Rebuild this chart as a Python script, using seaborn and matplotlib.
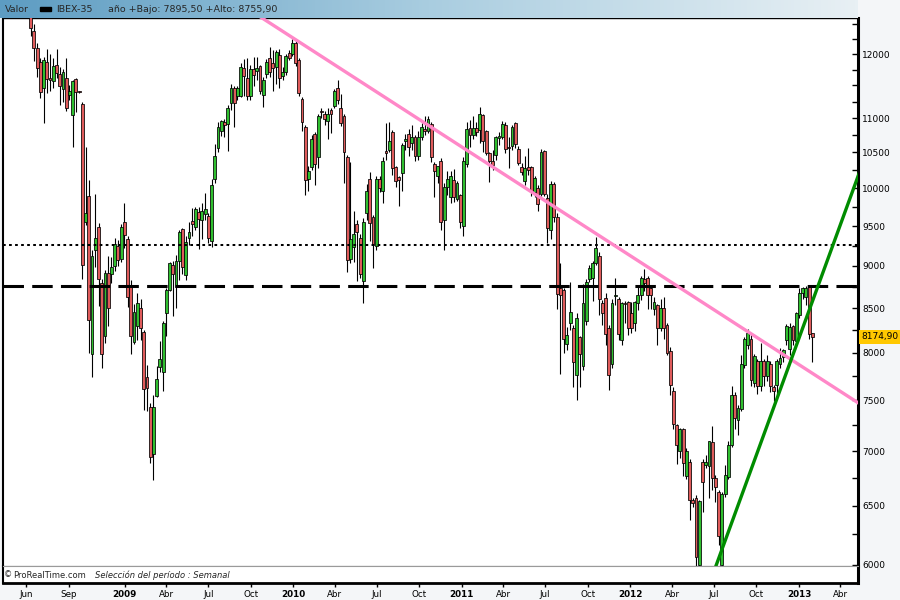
"""
IBEX-35 weekly candlestick chart (ProRealTime look) with trend lines and levels.
"""

import numpy as np
import pandas as pd
import matplotlib
matplotlib.use('Agg')
import matplotlib.pyplot as plt
import matplotlib.dates as mdates
from matplotlib.colors import LinearSegmentedColormap
from matplotlib.patches import Rectangle
from matplotlib.ticker import FixedLocator, FuncFormatter, NullFormatter
from matplotlib.transforms import blended_transform_factory
import seaborn as sns

sns.set_theme(style='white')
plt.rcParams['font.family'] = ['DejaVu Sans']

# Weekly OHLC, one candle per week starting 11 Jun 2008
first_week = '2008-06-11'

opens = [
    12800, 12380, 12095, 11880, 11455, 11870, 11620, 11570, 11820, 11675,
    11450, 11610, 11360, 11048, 11600, 11410, 11210, 9560, 9900, 7990,
    9200, 9490, 8795, 8180, 8920, 8905, 9000, 9250, 9085, 9550,
    9335, 8760, 8115, 8290, 8500, 8225, 7740, 7430, 6975, 7545,
    7845, 7790, 8440, 8710, 9015, 8750, 9065, 9460, 8895, 9350,
    9570, 9490, 9685, 9585, 9660, 9630, 9305, 10130, 10560, 10810,
    10950, 10920, 11235, 11455, 11330, 11340, 11780, 11615, 11330, 11765,
    11730, 11810, 11355, 11675, 11945, 11860, 11785, 11985, 11650, 11710,
    12015, 12010, 12185, 11900, 11285, 10865, 10130, 10300, 10760, 10435,
    11115, 11060, 10955, 11125, 11180, 11465, 11155, 11040, 10440, 9085,
    9240, 9530, 9350, 8815, 9665, 10130, 9615, 9245, 10130, 9960,
    10520, 10540, 10800, 10295, 10160, 10210, 10660, 10765, 10630, 10725,
    10450, 10725, 10840, 10815, 10915, 10330, 10175, 10385, 9585, 10020,
    9885, 10115, 9860, 9910, 9505, 10330, 10855, 10745, 10855, 10830,
    11050, 10815, 10490, 10385, 10470, 10710, 10730, 10900, 10580, 10595,
    10925, 10550, 10295, 10100, 10295, 10295, 9945, 10010, 9930, 10525,
    9875, 9445, 10065, 9625, 8735, 8710, 8100, 8330, 8275, 7765,
    8175, 7855, 8350, 8840, 8860, 9040, 9125, 8560, 8620, 8270,
    7880, 8640, 8605, 8140, 8560, 8565, 8445, 8325, 8555, 8650,
    8845, 8860, 8735, 8490, 8530, 8270, 8500, 8310, 8015, 7595,
    7255, 7000, 7210, 6770, 6895, 6550, 6570, 6000, 6900, 6865,
    6860, 7090, 6750, 6620, 6000, 6600, 6760, 7060, 7555, 7300,
    7410, 7865, 8085, 8145, 7680, 7915, 7650, 7915, 7750, 7875,
    7640, 7660, 7875, 7955, 8135, 8040, 8290, 8130, 8425, 8670,
    8630, 8755, 8215,
]

highs = [
    12900, 12510, 12175, 11935, 11950, 12085, 11995, 11940, 12085, 11795,
    11755, 11940, 11505, 11580, 11620, 11420, 11240, 10580, 10115, 9200,
    9925, 9540, 8840, 8955, 9125, 9115, 9345, 9325, 9530, 9810,
    9370, 8835, 8550, 8675, 8600, 8245, 7870, 7470, 7555, 7860,
    8125, 8355, 8735, 9050, 9060, 9140, 9450, 9470, 9370, 9560,
    9735, 9755, 9755, 9800, 9935, 9665, 10130, 10615, 10950, 10975,
    10990, 11195, 11520, 11490, 11490, 11860, 11915, 11930, 11830, 11955,
    11955, 11830, 11630, 11915, 12115, 12060, 12060, 12090, 11800, 12000,
    12065, 12245, 12245, 11930, 11320, 10900, 10315, 10745, 10795, 11060,
    11155, 11115, 11155, 11155, 11450, 11580, 11365, 11060, 10465, 10365,
    9695, 9575, 9400, 9600, 10065, 10230, 9645, 10165, 10165, 10440,
    10935, 10940, 10830, 10315, 10165, 10640, 10765, 10840, 10900, 10745,
    10815, 10925, 11040, 11040, 10950, 10365, 10315, 10415, 10070, 10240,
    10240, 10265, 10100, 9925, 10440, 10950, 10975, 11040, 10950, 11170,
    11060, 10830, 10510, 10540, 10740, 10800, 10960, 10950, 10720, 10900,
    10950, 10595, 10345, 10450, 10560, 10315, 10165, 10045, 10555, 10530,
    9925, 10100, 10090, 9665, 9040, 8735, 8285, 8805, 8305, 8445,
    8185, 8780, 8845, 9015, 9060, 9355, 9170, 8590, 8675, 8305,
    8610, 8860, 8630, 8565, 8580, 8580, 8575, 8580, 8755, 8880,
    8960, 8880, 8755, 8630, 8545, 8610, 8630, 8325, 8065, 7640,
    7265, 7225, 7225, 7025, 6920, 6570, 6595, 6550, 6920, 6960,
    7100, 7240, 6775, 6640, 6620, 6870, 7100, 7645, 7580, 7455,
    7975, 8170, 8265, 8215, 7985, 7935, 8110, 7935, 7975, 7915,
    7660, 7935, 8050, 8035, 8320, 8325, 8310, 8460, 8740, 8750,
    8755.9, 8755.9, 8215,
]

lows = [
    12300, 11890, 11635, 11300, 10935, 11385, 11415, 11455, 11610, 11200,
    11250, 11115, 11275, 10580, 11100, 11380, 8845, 9520, 7995, 7740,
    8990, 8525, 7840, 8105, 8300, 8795, 8935, 9000, 9050, 9220,
    8510, 7990, 8095, 8140, 8140, 7400, 7390, 6890, 6730, 7535,
    7790, 7590, 8180, 8695, 8410, 8500, 8835, 8900, 8835, 9260,
    9375, 9450, 9210, 9335, 9585, 9285, 9240, 10075, 10500, 10735,
    10720, 10515, 11125, 10870, 11275, 11320, 11330, 11275, 11275, 11490,
    11590, 11370, 11175, 11615, 11630, 11410, 11525, 11465, 11590, 11665,
    11905, 11965, 11810, 11340, 10805, 9910, 9965, 10255, 10045, 10280,
    11000, 10900, 10700, 10785, 11150, 11210, 10880, 10080, 8925, 9040,
    9050, 8815, 8850, 8560, 9580, 9310, 8980, 9200, 9950, 9800,
    10400, 10500, 10185, 10020, 9760, 9965, 10540, 10450, 10540, 10385,
    10390, 10680, 10750, 10780, 10365, 9890, 10075, 9445, 9200, 9910,
    9805, 9820, 9825, 9480, 9380, 10290, 10580, 10690, 10735, 10640,
    10510, 10465, 10090, 10250, 10390, 10605, 10690, 10490, 10280, 10540,
    10565, 10320, 10185, 10050, 10185, 9900, 9885, 9700, 9900, 9900,
    9280, 9330, 9555, 8490, 7775, 8000, 8025, 8245, 7635, 7505,
    7635, 7815, 8310, 8805, 8580, 9015, 8415, 8305, 8085, 7600,
    7840, 8540, 8140, 8085, 8330, 8195, 8215, 8240, 8475, 8590,
    8705, 8490, 8490, 8425, 8080, 8240, 8150, 7980, 7550, 7215,
    6880, 6930, 6770, 6735, 6370, 6490, 5975, 5960, 6440, 6840,
    6565, 6640, 6530, 6165, 5975, 6580, 6735, 7035, 7215, 7155,
    7390, 7840, 8045, 7645, 7640, 7565, 7590, 7650, 7700, 7585,
    7490, 7555, 7835, 7905, 8085, 7980, 8085, 8085, 8390, 8600,
    8540, 8145, 7895.5,
]

closes = [
    12430, 12095, 11770, 11395, 11905, 11595, 11580, 11805, 11700, 11495,
    11705, 11150, 11420, 11565, 11395, 11400, 9014, 9665, 8362, 9125,
    9350, 8840, 7990, 8910, 8500, 8990, 9270, 9075, 9495, 9390,
    8625, 8180, 8455, 8560, 8270, 7615, 7630, 6945, 7430, 7720,
    7930, 8330, 8710, 9035, 8905, 9065, 9420, 8985, 9300, 9430,
    9525, 9720, 9595, 9695, 9720, 9345, 10047, 10450, 10865, 10955,
    10895, 11155, 11455, 11230, 11455, 11790, 11650, 11330, 11760, 11670,
    11775, 11420, 11585, 11880, 11720, 11775, 12040, 11615, 11720, 11975,
    11940, 12175, 11860, 11385, 10950, 10120, 10240, 10690, 10335, 11035,
    11090, 10990, 11060, 11070, 11420, 11275, 10930, 10500, 9070, 9330,
    9400, 9425, 8900, 9560, 9970, 9535, 9255, 10130, 10000, 10385,
    10490, 10665, 10275, 10105, 10120, 10607, 10690, 10580, 10725, 10450,
    10725, 10875, 10815, 10990, 10430, 10235, 10305, 9555, 10020, 10130,
    10165, 9880, 10080, 9555, 10385, 10840, 10745, 10855, 10795, 11065,
    10660, 10490, 10385, 10325, 10730, 10740, 10920, 10550, 10560, 10875,
    10615, 10345, 10230, 10285, 10250, 9945, 10145, 9790, 10505, 9930,
    9480, 10065, 9625, 8665, 8650, 8150, 8190, 8460, 7905, 8385,
    7990, 8555, 8805, 8975, 9040, 9220, 8605, 8440, 8205, 7765,
    8560, 8650, 8210, 8555, 8550, 8275, 8270, 8565, 8655, 8860,
    8800, 8650, 8650, 8565, 8270, 8500, 8270, 8000, 7660, 7265,
    7060, 7210, 6885, 7000, 6550, 6525, 6060, 6540, 6710, 6900,
    7095, 6750, 6665, 6240, 6600, 6775, 7060, 7555, 7320, 7425,
    7875, 8145, 8215, 7710, 7965, 7650, 7915, 7750, 7915, 7650,
    7595, 7915, 7940, 8025, 8295, 8280, 8140, 8440, 8680, 8730,
    8735, 8210, 8174.9,
]

# Horizontal levels and trend lines (anchor points)
level_dashed = 8760
level_dotted = 9255
pink_dates = ['2009-09-01', '2013-06-01']
pink_prices = [12885, 7405]
green_dates = ['2012-06-20', '2013-06-01']
green_prices = [5835, 10575]

# Axis ticks
y_labels = [6000, 6500, 7000, 7500, 8000, 8500, 9000, 9500, 10000, 10500, 11000, 12000]
y_minor = [6250, 6750, 7250, 7750, 8250, 8750, 9250, 9750, 10250, 10750,
           11250, 11500, 11750, 12250, 12500]
month_ticks = ['2008-06-01', '2008-09-01', '2009-01-01', '2009-04-01', '2009-07-01',
               '2009-10-01', '2010-01-01', '2010-04-01', '2010-07-01', '2010-10-01',
               '2011-01-01', '2011-04-01', '2011-07-01', '2011-10-01', '2012-01-01',
               '2012-04-01', '2012-07-01', '2012-10-01', '2013-01-01', '2013-04-01']
month_labels = ['Jun', 'Sep', '2009', 'Abr', 'Jul', 'Oct', '2010', 'Abr', 'Jul', 'Oct',
                '2011', 'Abr', 'Jul', 'Oct', '2012', 'Abr', 'Jul', 'Oct', '2013', 'Abr']

RED = '#df5b5b'
GREEN = '#2fbf2f'
PINK = '#ff88c8'
TREND_GREEN = '#008c00'
BG = '#f4f6f8'

W, H = 900, 600


def fig_box(x0, y0, x1, y1):
    """Pixel box (top-left origin) -> figure fraction rect."""
    return [x0 / W, 1 - y1 / H, (x1 - x0) / W, (y1 - y0) / H]


dates = pd.date_range(first_week, periods=len(opens), freq='7D')
x = mdates.date2num(dates)
o, h, l, c = (np.array(v, dtype=float) for v in (opens, highs, lows, closes))
body_lo = np.minimum(o, c)
body_hi = np.maximum(o, c)
colors = np.where(c >= o, GREEN, RED)

xmin = mdates.date2num(pd.Timestamp('2008-04-12'))
xmax = mdates.date2num(pd.Timestamp('2013-05-09'))

fig = plt.figure(figsize=(9, 6), dpi=100, facecolor=BG)
ax = fig.add_axes(fig_box(3, 18, 858, 566))
foot = fig.add_axes(fig_box(3, 566, 858, 583))
hdr = fig.add_axes(fig_box(0, 0, 858, 18))

# Candles
ax.set_facecolor('white')
ax.vlines(x, l, h, color='black', linewidth=0.8, zorder=2)
ax.bar(x, body_hi - body_lo, bottom=body_lo, width=6.2, color=colors,
       edgecolor='black', linewidth=0.55, zorder=3)

# Levels and trend lines
ax.axhline(level_dotted, color='black', linewidth=1.45, dashes=(1.35, 1.65), zorder=4)
ax.axhline(level_dashed, color='black', linewidth=2.2, dashes=(6.7, 2.7), zorder=4)
sns.lineplot(x=mdates.date2num(pd.to_datetime(pink_dates)), y=pink_prices, ax=ax,
             color=PINK, linewidth=2.4, zorder=5)
sns.lineplot(x=mdates.date2num(pd.to_datetime(green_dates)), y=green_prices, ax=ax,
             color=TREND_GREEN, linewidth=2.4, zorder=5)

ax.set_yscale('log')
ax.set_ylim(5988, 12604)
ax.set_xlim(xmin, xmax)
ax.set_xlabel('')
ax.set_ylabel('')
ax.grid(False)

ax.yaxis.tick_right()
ax.yaxis.set_major_locator(FixedLocator(y_labels))
ax.yaxis.set_major_formatter(FuncFormatter(lambda v, p: f'{v:.0f}'))
ax.yaxis.set_minor_locator(FixedLocator(y_minor))
ax.yaxis.set_minor_formatter(NullFormatter())
ax.tick_params(axis='y', which='both', direction='in', right=True, left=False,
               length=4.5, width=1, colors='black', labelsize=6.5, pad=3)
ax.tick_params(axis='x', which='both', bottom=False, labelbottom=False)

for s in ax.spines.values():
    s.set_color('black')
ax.spines['right'].set_linewidth(2.2)
ax.spines['left'].set_linewidth(1.5)
ax.spines['top'].set_linewidth(1.0)
ax.spines['bottom'].set_linewidth(0.8)

# Last close tag
last_close = closes[-1]
tag_tr = blended_transform_factory(ax.transAxes, ax.transData)
ax.text(1 + 3.5 / 855, last_close, f'{last_close:.2f}'.replace('.', ','), transform=tag_tr,
        ha='left', va='center', fontsize=6.5, color='black', clip_on=False, zorder=10,
        bbox=dict(boxstyle='square,pad=0.3', fc='#ffc800', ec='none'))

# Footer strip with month labels underneath
foot.set_facecolor('white')
foot.set_xlim(xmin, xmax)
foot.set_ylim(0, 1)
foot.set_yticks([])
foot.set_xticks(mdates.date2num(pd.to_datetime(month_ticks)))
foot.set_xticklabels(month_labels)
foot.tick_params(axis='x', direction='out', bottom=True, length=3, width=1,
                 colors='black', labelsize=6.3, pad=2)
for lbl in foot.get_xticklabels():
    if lbl.get_text().isdigit():
        lbl.set_fontweight('bold')
for name, s in foot.spines.items():
    s.set_color('black')
foot.spines['top'].set_color('#9a9a9a')
foot.spines['top'].set_linewidth(0.8)
foot.spines['left'].set_linewidth(1.5)
foot.spines['right'].set_linewidth(2.2)
foot.spines['bottom'].set_linewidth(2.0)

fig.text(4 / W, 1 - 575 / H, '©', fontsize=6, va='center', ha='left')
fig.text(13 / W, 1 - 575 / H, 'ProRealTime.com', fontsize=6, va='center', ha='left')
fig.text(95 / W, 1 - 575 / H, 'Selección del período : Semanal', fontsize=6,
         style='italic', va='center', ha='left')

# Header bar
hdr_cmap = LinearSegmentedColormap.from_list('hdr', ['#5d9cc2', '#a9cde0', '#e8f0f4'])
hdr.imshow(np.linspace(0, 1, 256)[None, :], aspect='auto', cmap=hdr_cmap,
           extent=(0, 1, 0, 1))
hdr.set_axis_off()

in_2013 = dates >= pd.Timestamp('2013-01-01')
year_low = l[in_2013].min()
year_high = h[in_2013].max()
fig.text(5 / W, 1 - 9 / H, 'Valor', fontsize=6.8, va='center', ha='left')
fig.patches.append(Rectangle((40 / W, 1 - 10.5 / H), 11 / W, 3 / H,
                             transform=fig.transFigure, color='black'))
fig.text(56 / W, 1 - 9 / H, 'IBEX-35', fontsize=6.8, va='center', ha='left')
fig.text(108 / W, 1 - 9 / H,
         f'año +Bajo: {year_low:.2f} +Alto: {year_high:.2f}'.replace('.', ','),
         fontsize=6.8, va='center', ha='left')

fig.savefig('out.png', dpi=100, facecolor=BG)
